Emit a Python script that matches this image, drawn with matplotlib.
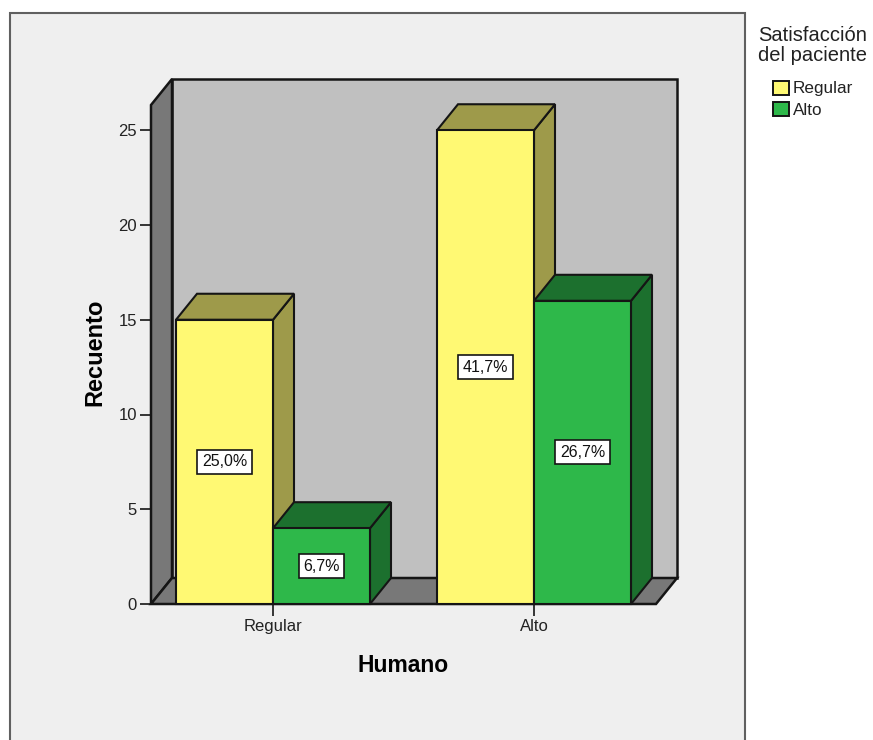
import matplotlib
matplotlib.use("Agg")
import matplotlib.pyplot as plt
from matplotlib.patches import Patch, Polygon, Rectangle

plt.rcParams['font.family'] = ['Liberation Sans', 'DejaVu Sans']

categories = ['Regular', 'Alto']
series_names = ['Regular', 'Alto']
yellow_counts = [15, 25]
green_counts = [4, 16]
yellow_pct = ['25,0%', '41,7%']
green_pct = ['6,7%', '26,7%']
y_ticks = [0, 5, 10, 15, 20, 25]

W, H = 873, 740
BAR_W = 97 / 261
DX = 21 / 261
DY = 26 / 18.95
YEL = ('#fff973', '#9e9a4a')
GRN = ('#2eb84a', '#1c702e')
EDGE = '#151515'


def box3d(ax, x0, x1, top, colors):
    """front face plus top and side of one bar"""
    front, dark = colors
    side = [(x1, 0), (x1 + DX, DY), (x1 + DX, top + DY), (x1, top)]
    lid = [(x0, top), (x0 + DX, top + DY), (x1 + DX, top + DY), (x1, top)]
    ax.add_patch(Polygon(side, fc=dark, ec=EDGE, lw=1.5, clip_on=False))
    ax.add_patch(Polygon(lid, fc=dark, ec=EDGE, lw=1.5, clip_on=False))
    ax.add_patch(Rectangle((x0, 0), x1 - x0, top, fc=front, ec=EDGE, lw=1.5, clip_on=False))


fig = plt.figure(figsize=(W / 100, H / 100), dpi=100, facecolor='white')
fig.add_artist(Rectangle((10 / W, -0.02), 735 / W, 1 + 0.02 - 13 / H, transform=fig.transFigure,
                         fc='#efefef', ec='#606060', lw=1.5, zorder=-1))

ax = fig.add_axes([151 / W, (H - 604) / H, 505 / W, 499 / H])
ax.patch.set_visible(False)
x_lo, x_hi = -122 / 261, 383 / 261
y_hi = 499 / 18.95
ax.set_xlim(x_lo, x_hi)
ax.set_ylim(0, y_hi)

# back wall, left wall, floor
back_wall = [(x_lo + DX, DY), (x_hi + DX, DY), (x_hi + DX, y_hi + DY), (x_lo + DX, y_hi + DY)]
left_wall = [(x_lo, 0), (x_lo + DX, DY), (x_lo + DX, y_hi + DY), (x_lo, y_hi)]
floor = [(x_lo, 0), (x_lo + DX, DY), (x_hi + DX, DY), (x_hi, 0)]
ax.add_patch(Polygon(back_wall, fc='#c0c0c0', ec=EDGE, lw=1.8, clip_on=False))
ax.add_patch(Polygon(left_wall, fc='#787878', ec=EDGE, lw=1.8, clip_on=False))
ax.add_patch(Polygon(floor, fc='#787878', ec=EDGE, lw=1.8, clip_on=False))

label_box = dict(boxstyle='square,pad=0.28', fc='white', ec=EDGE, lw=1.2)
for i in range(len(categories)):
    box3d(ax, i - BAR_W, i, yellow_counts[i], YEL)
    box3d(ax, i, i + BAR_W, green_counts[i], GRN)
    ax.text(i - BAR_W / 2, yellow_counts[i] / 2, yellow_pct[i], ha='center', va='center',
            fontsize=11.5, color='#111111', bbox=label_box)
    ax.text(i + BAR_W / 2, green_counts[i] / 2, green_pct[i], ha='center', va='center',
            fontsize=11.5, color='#111111', bbox=label_box)

for s in ax.spines.values():
    s.set_visible(False)
ax.set_xticks(range(len(categories)))
ax.set_xticklabels(categories, fontsize=12, color='#222222')
ax.set_yticks(y_ticks)
ax.tick_params(axis='x', length=8.5, width=1.2, pad=2, color=EDGE)
ax.tick_params(axis='y', length=8, width=1.2, pad=2, labelsize=12, color=EDGE, labelcolor='#222222')
ax.set_xlabel('Humano', fontsize=16.5, fontweight='bold', labelpad=15)
ax.set_ylabel('Recuento', fontsize=17, fontweight='bold', labelpad=9, y=0.505)

fig.text(758 / W, 1 - 45.5 / H, 'Satisfacción\ndel paciente', fontsize=14.5, ha='left', va='center',
         linespacing=1.05, color='#222222')
handles = [Patch(fc=YEL[0], ec=EDGE, lw=1.4), Patch(fc=GRN[0], ec=EDGE, lw=1.4)]
fig.legend(handles, series_names, loc='upper left', bbox_to_anchor=(773 / W, 1 - 80.5 / H), frameon=False,
           fontsize=12.3, labelcolor='#222222', handlelength=0.95, handleheight=0.9, handletextpad=0.2,
           labelspacing=0.3, borderpad=0, borderaxespad=0)

fig.savefig('out.png', dpi=100)
